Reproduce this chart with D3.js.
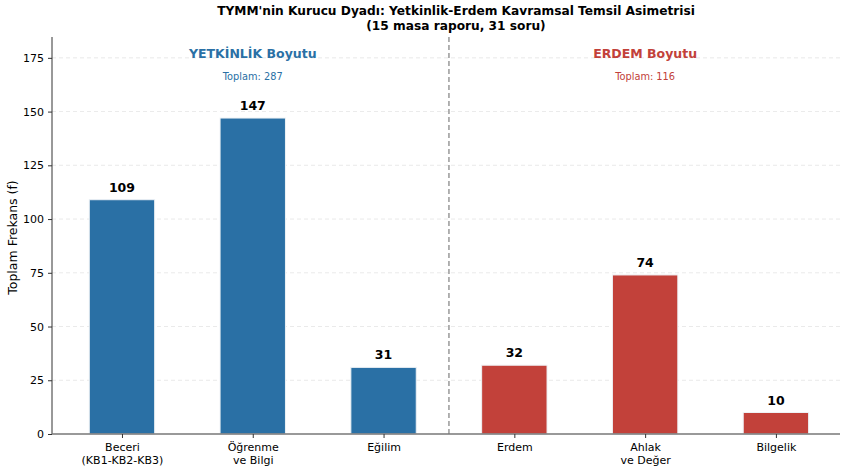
<!DOCTYPE html>
<html><head><meta charset="utf-8">
<script src="https://cdn.jsdelivr.net/npm/d3@7"></script>
<style>body{margin:0;background:#fff}svg{display:block}text{font-family:"DejaVu Sans",sans-serif}</style>
</head><body>
<svg id="c" width="841" height="472"></svg>
<script>
const categories = ["Beceri\n(KB1-KB2-KB3)", "Öğrenme\nve Bilgi", "Eğilim", "Erdem", "Ahlak\nve Değer", "Bilgelik"];
const values = [109, 147, 31, 32, 74, 10];
const groups = ["Y", "Y", "Y", "E", "E", "E"];
const yTicks = [0, 25, 50, 75, 100, 125, 150, 175];
const dims = [
  {name: "YETKİNLİK Boyutu", total: "Toplam: 287", at: 1, g: "Y"},
  {name: "ERDEM Boyutu", total: "Toplam: 116", at: 4, g: "E"}
];
const colors = {Y: "#2A70A5", E: "#C2413A"};

const svg = d3.select("#c");
const L = 52, R = 840, T = 37, B = 434;
const x = d3.scaleLinear().domain([-0.535, 5.49]).range([L, R]);
const y = d3.scaleLinear().domain([0, 184.7]).range([B, T]);
const bw = (x(1) - x(0)) * 0.5;

// grid
svg.append("g").selectAll("line").data(yTicks.filter(d => d > 0)).join("line")
  .attr("x1", L).attr("x2", R).attr("y1", d => y(d)).attr("y2", d => y(d))
  .attr("stroke", "#d9d9d9").attr("stroke-width", 0.8).attr("stroke-dasharray", "4,3").attr("opacity", 0.7);

// bars
svg.append("g").selectAll("rect").data(values).join("rect")
  .attr("x", (d, i) => x(i) - bw / 2).attr("width", bw)
  .attr("y", d => y(d)).attr("height", d => B - y(d))
  .attr("fill", (d, i) => colors[groups[i]])
  .attr("stroke", "#eef2f5").attr("stroke-width", 1);

// value labels
svg.append("g").selectAll("text").data(values).join("text")
  .attr("x", (d, i) => x(i)).attr("y", d => y(d) - 8)
  .attr("text-anchor", "middle").attr("font-size", 12.5).attr("font-weight", "bold").attr("fill", "#000")
  .text(d => d);

// divider
svg.append("line").attr("x1", x(2.5)).attr("x2", x(2.5)).attr("y1", T).attr("y2", B)
  .attr("stroke", "#999").attr("stroke-width", 1.5).attr("stroke-dasharray", "5,3");

// dimension labels
dims.forEach(d => {
  svg.append("text").attr("x", x(d.at)).attr("y", 58).attr("text-anchor", "middle")
    .attr("font-size", 12.5).attr("font-weight", "bold").attr("fill", colors[d.g]).text(d.name);
  svg.append("text").attr("x", x(d.at)).attr("y", 80).attr("text-anchor", "middle")
    .attr("font-size", 9.8).attr("fill", colors[d.g]).text(d.total);
});

// axes
const ya = svg.append("g").attr("transform", `translate(${L},0)`)
  .call(d3.axisLeft(y).tickValues(yTicks).tickSize(4).tickPadding(4));
ya.select(".domain").attr("stroke", "#333").attr("d", `M0,${B}V${T}`);
ya.selectAll(".tick line").attr("stroke", "#333");
ya.selectAll(".tick text").attr("font-size", 11).attr("font-family", "DejaVu Sans").attr("fill", "#000");

const xa = svg.append("g").attr("transform", `translate(0,${B})`)
  .call(d3.axisBottom(x).tickValues(d3.range(categories.length)).tickSize(4).tickFormat(() => ""));
xa.select(".domain").attr("stroke", "#777").attr("stroke-width", 1.5).attr("d", `M${L},0H${R}`);
xa.selectAll(".tick line").attr("stroke", "#333");
xa.selectAll(".tick").each(function(d) {
  const lines = categories[d].split("\n");
  const t = d3.select(this).append("text").attr("fill", "#000").attr("font-size", 11)
    .attr("text-anchor", "middle").attr("font-family", "DejaVu Sans");
  lines.forEach((ln, k) => t.append("tspan").attr("x", 0).attr("y", 17 + k * 13).text(ln));
});

// y label
svg.append("text").attr("transform", `translate(17,${(T + B) / 2 + 2}) rotate(-90)`)
  .attr("text-anchor", "middle").attr("font-size", 12.5).text("Toplam Frekans (f)");

// title
const title = svg.append("text").attr("text-anchor", "middle").attr("font-size", 12.2).attr("font-weight", "bold");
title.append("tspan").attr("x", 456).attr("y", 15).text("TYMM'nin Kurucu Dyadı: Yetkinlik-Erdem Kavramsal Temsil Asimetrisi");
title.append("tspan").attr("x", 456).attr("y", 30).text("(15 masa raporu, 31 soru)");
</script>
</body></html>
